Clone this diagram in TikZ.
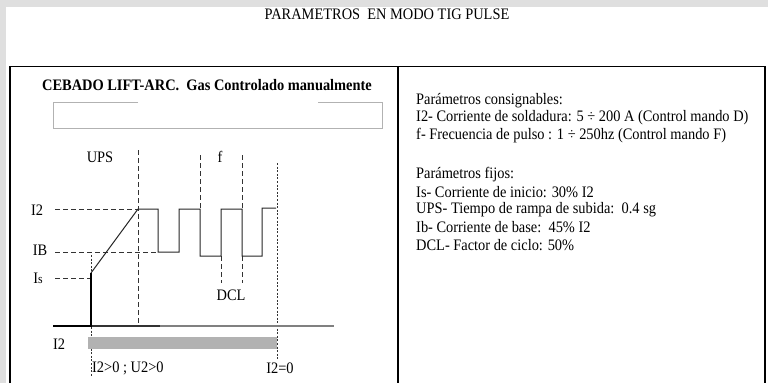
\documentclass[tikz,border=0pt]{standalone}
\usepackage{fontspec}
\setmainfont[FakeStretch=0.9]{Liberation Serif}
\begin{document}
\begin{tikzpicture}[x=1pt,y=-1pt,
  txt/.style={inner sep=0pt,font=\fontsize{16}{18}\selectfont},
  lbl/.style={inner sep=0pt,font=\fontsize{16}{18}\selectfont},
  border/.style={line width=1.6pt,black},
  dsh/.style={line width=1pt,black!80,dash pattern=on 5pt off 3pt},
  dtd/.style={line width=0.9pt,black!80,dash pattern=on 2pt off 1.6pt},
  wave/.style={line width=1pt,black!85},
]
\useasboundingbox (0,0) rectangle (768,383);
% background
\fill[gray!25] (0,0) rectangle (768,383);
\fill[white] (6,7) rectangle (768,383);
% title
\node[txt] (title) at (387,14) {PARAMETROS\ \ EN MODO TIG PULSE};
% table
\draw[border] (10,383) -- (10,66.5) -- (765,66.5) -- (765,383);
\draw[border,line width=1.2pt] (398,66.5) -- (398,383);
% left column heading
\node[txt,font=\fontsize{16}{18}\selectfont\bfseries] (head) at (207,85) {CEBADO LIFT-ARC.\ \ Gas Controlado manualmente};
\draw[gray!60,line width=0.9pt] (138,102) -- (53,102) -- (53,128) -- (382,128) -- (382,102) -- (318,102);
% labels
\node[lbl] (ups) at (100,157) {UPS};
\node[lbl] (f) at (220,157) {f};
\node[lbl] (li2) at (37,210) {I2};
\node[lbl] (lib) at (40,250) {IB};
\node[lbl] (lis) at (38,278) {I\fontsize{13}{15}\selectfont s};
\node[lbl] (dcl) at (231,295) {DCL};
\node[lbl] (bi2) at (59,344) {I2};
\node[lbl,anchor=west] (c1) at (92,368) {I2>0 ; U2>0};
\node[lbl] (c2) at (280,368) {I2=0};
% coordinates
\coordinate (rs) at (91,273);
\coordinate (rt) at (138,209);
% level dashes
\draw[dsh] (55,209) -- (rt);
\draw[dsh] (55,252) -- (158,252);
\draw[dsh] (55,278) -- (91,278);
% vertical dashes
\draw[dsh] (138,150) -- (138,326);
\draw[dsh] (200,155) -- (200,209);
\draw[dsh] (242,155) -- (242,209);
\draw[dsh] (221,256) -- (221,283);
\draw[dsh] (242,256) -- (242,283);
\draw[dtd] (277,163) -- (277,359);
\draw[dtd] (91,255) -- (91,377);
% gray bar
\fill[black!30] (88,337) rectangle (277,349);
% base line
\draw[line width=1.1pt,black!80] (91,326) -- (160,326);
\draw[line width=1.1pt,black!50] (160,326) -- (334,326);
\draw[line width=2.6pt,black] (53,326) -- (91,326) -- (rs);
% ramp and pulses
\draw[wave] (rs) -- (rt) -- (158,209) -- (158,252) -- (179,252) -- (179,209) -- (200,209) -- (200,256) -- (221,256) -- (221,209) -- (242,209) -- (242,256) -- (262,256) -- (262,208) -- (276,208);
% right column
\begin{scope}[every node/.style={txt,anchor=west}]
\node (r1) at (416,100.5) {Parámetros consignables:};
\node (r2) at (416,118) {I2- Corriente de soldadura: 5 ÷ 200 A (Control mando D)};
\node (r3) at (416,135.5) {f- Frecuencia de pulso : 1 ÷ 250hz (Control mando F)};
\node (r4) at (416,175) {Parámetros fijos:};
\node (r5) at (416,192.5) {Is- Corriente de inicio: 30\% I2};
\node (r6) at (416,210) {UPS- Tiempo de rampa de subida:\ \ 0.4 sg};
\node (r7) at (416,227.5) {Ib- Corriente de base:\ \ 45\% I2};
\node (r8) at (416,245) {DCL- Factor de ciclo: 50\%};
\end{scope}
\end{tikzpicture}
\end{document}
